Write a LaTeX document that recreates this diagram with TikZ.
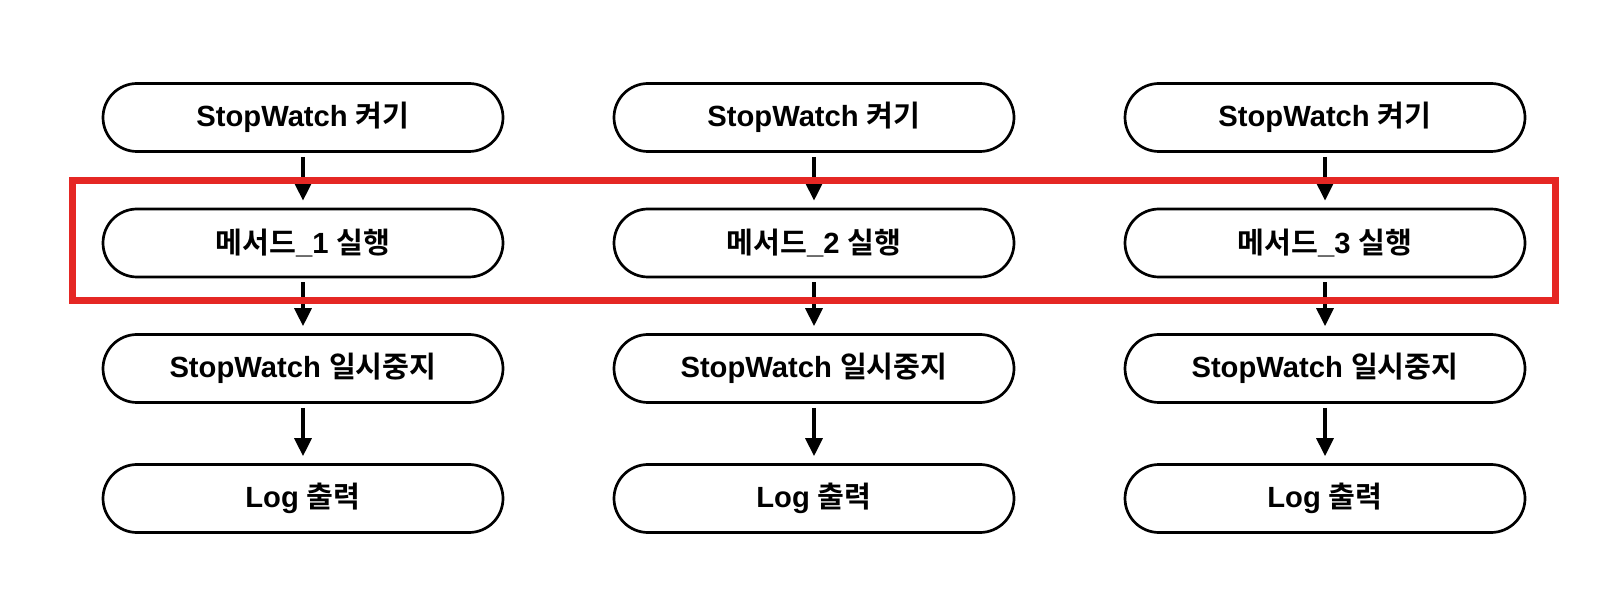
\documentclass[tikz,border=0pt]{standalone}
\usepackage{fontspec}
\setmainfont{Liberation Sans}
\newfontfamily\krfont{Noto Sans CJK KR}[BoldFont={Noto Sans CJK KR Bold}]
\usepackage{tikz}
\usetikzlibrary{arrows.meta,fit}
\definecolor{hlred}{RGB}{229,39,36}

\begin{document}
\begin{tikzpicture}[
  x=0.5pt, y=-0.5pt,
  >={Triangle[length=9pt,width=8.5pt]},
  box/.style={draw=black, line width=1.35pt, rounded corners=17pt, fill=white, minimum width=200pt, minimum height=34pt, inner sep=0pt, font=\fontsize{14.6}{17}\selectfont\bfseries},
  arr/.style={->, line width=1.6pt, draw=black, shorten <=2pt, shorten >=3.5pt},
  hl/.style={draw=hlred, line width=3.5pt, inner xsep=14.75pt, inner ysep=12.25pt}
]
\useasboundingbox (0,0) rectangle (1622,598);

\node[box] (sa) at (303,117.5) {StopWatch {\krfont 켜기}};
\node[box] (ma) at (303,243) {{\krfont 메서드}\_1 {\krfont 실행}};
\node[box] (pa) at (303,368.5) {StopWatch {\krfont 일시중지}};
\node[box] (la) at (303,498.5) {Log {\krfont 출력}};

\node[box] (sb) at (814,117.5) {StopWatch {\krfont 켜기}};
\node[box] (mb) at (814,243) {{\krfont 메서드}\_2 {\krfont 실행}};
\node[box] (pb) at (814,368.5) {StopWatch {\krfont 일시중지}};
\node[box] (lb) at (814,498.5) {Log {\krfont 출력}};

\node[box] (sc) at (1325,117.5) {StopWatch {\krfont 켜기}};
\node[box] (mc) at (1325,243) {{\krfont 메서드}\_3 {\krfont 실행}};
\node[box] (pc) at (1325,368.5) {StopWatch {\krfont 일시중지}};
\node[box] (lc) at (1325,498.5) {Log {\krfont 출력}};

\draw[arr] (sa)--(ma);
\draw[arr] (ma)--(pa);
\draw[arr] (pa)--(la);
\draw[arr] (sb)--(mb);
\draw[arr] (mb)--(pb);
\draw[arr] (pb)--(lb);
\draw[arr] (sc)--(mc);
\draw[arr] (mc)--(pc);
\draw[arr] (pc)--(lc);

% highlighted step
\node[hl, fit=(ma)(mc), yshift=1.25pt] (hi) {};
\end{tikzpicture}
\end{document}
